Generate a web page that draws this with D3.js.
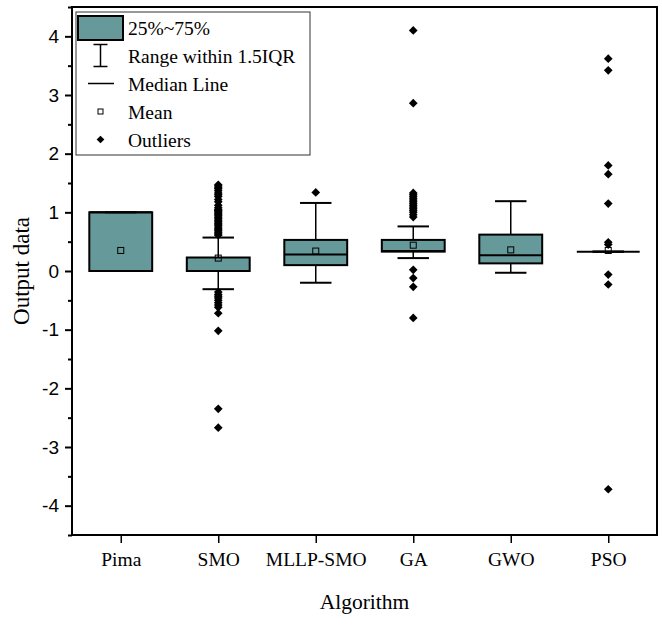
<!DOCTYPE html>
<html>
<head>
<meta charset="utf-8">
<script src="https://cdn.jsdelivr.net/npm/d3@7"></script>
<style>
  html, body { margin: 0; padding: 0; background: #fff; }
  svg { display: block; }
</style>
</head>
<body>
<svg id="chart" width="662" height="633"></svg>
<script>
const categories = ["Pima", "SMO", "MLLP-SMO", "GA", "GWO", "PSO"];
const q1Values = [0, 0, 0.10, 0.33, 0.13, 0.33];
const medianValues = [1, 0, 0.28, 0.34, 0.27, 0.33];
const q3Values = [1, 0.23, 0.53, 0.53, 0.62, 0.33];
const whiskerLow = [0, -0.31, -0.20, 0.22, -0.03, 0.33];
const whiskerHigh = [1, 0.57, 1.16, 0.76, 1.19, 0.33];
const meanValues = [0.35, 0.22, 0.34, 0.44, 0.36, 0.35];
const outlierPima = [];
const outlierSMO = [1.47, 1.45, 1.42, 1.40, 1.37, 1.33, 1.30, 1.27, 1.22, 1.18, 1.12, 1.08, 1.05, 1.03, 1.01,
  0.99, 0.97, 0.95, 0.92, 0.90, 0.87, 0.85, 0.82, 0.80, 0.78, 0.75, 0.72, 0.70, 0.68, 0.65, 0.63, 0.61,
  -0.36, -0.40, -0.43, -0.46, -0.50, -0.54, -0.58, -0.62, -0.72, -1.02, -2.35, -2.67];
const outlierMLLP = [1.34];
const outlierGA = [4.10, 2.86, 1.33, 1.30, 1.27, 1.24, 1.21, 1.18, 1.15, 1.12, 1.09, 1.06, 1.03, 1.00, 0.96, 0.92,
  0.02, -0.12, -0.27, -0.80];
const outlierGWO = [];
const outlierPSO = [3.62, 3.42, 1.80, 1.65, 1.15, 0.49, 0.45, -0.06, -0.23, -3.72];
const outlierSets = [outlierPima, outlierSMO, outlierMLLP, outlierGA, outlierGWO, outlierPSO];
const yTicks = [-4, -3, -2, -1, 0, 1, 2, 3, 4];
const yMinorTicks = [-4.5, -3.5, -2.5, -1.5, -0.5, 0.5, 1.5, 2.5, 3.5, 4.5];
const legendLabels = ["25%~75%", "Range within 1.5IQR", "Median Line", "Mean", "Outliers"];

const boxColor = "#669999";
const serif = "'Liberation Serif', 'Times New Roman', serif";
const sans = "'Liberation Sans', Arial, sans-serif";

const svg = d3.select("#chart");
const pLeft = 72, pRight = 657, pTop = 7, pBottom = 535;

const x = d3.scalePoint().domain(categories).range([pLeft, pRight]).padding(0.5);
const y = d3.scaleLinear().domain([-4.5, 4.5]).range([pBottom, pTop]);
const boxW = x.step() * 0.645;
const capW = boxW / 2;

const rows = categories.map((c, i) => ({
  c, q1: q1Values[i], med: medianValues[i], q3: q3Values[i],
  lo: whiskerLow[i], hi: whiskerHigh[i], mean: meanValues[i], out: outlierSets[i]
}));

const g = svg.append("g");
rows.forEach(r => {
  const cx = x(r.c);
  const gg = g.append("g");
  gg.append("line").attr("x1", cx).attr("x2", cx).attr("y1", y(r.q3)).attr("y2", y(r.hi))
    .attr("stroke", "#000").attr("stroke-width", 1.5);
  gg.append("line").attr("x1", cx).attr("x2", cx).attr("y1", y(r.q1)).attr("y2", y(r.lo))
    .attr("stroke", "#000").attr("stroke-width", 1.5);
  gg.append("rect").attr("x", cx - boxW / 2).attr("width", boxW)
    .attr("y", y(r.q3)).attr("height", Math.max(0, y(r.q1) - y(r.q3)))
    .attr("fill", boxColor).attr("stroke", "#000").attr("stroke-width", 2);
  gg.append("line").attr("x1", cx - boxW / 2).attr("x2", cx + boxW / 2)
    .attr("y1", y(r.med)).attr("y2", y(r.med)).attr("stroke", "#000").attr("stroke-width", 2);
  [r.lo, r.hi].forEach(v => {
    gg.append("line").attr("x1", cx - capW / 2).attr("x2", cx + capW / 2)
      .attr("y1", y(v)).attr("y2", y(v)).attr("stroke", "#000").attr("stroke-width", 2);
  });
  gg.append("rect").attr("x", cx - 3).attr("y", y(r.mean) - 3).attr("width", 6).attr("height", 6)
    .attr("fill", "none").attr("stroke", "#000").attr("stroke-width", 1);
  const sym = d3.symbol(d3.symbolSquare, 38);
  gg.selectAll("path.out").data(r.out).join("path").attr("class", "out")
    .attr("d", sym).attr("transform", v => `translate(${cx},${y(v)}) rotate(45)`)
    .attr("fill", "#000");
});

const yAxis = d3.axisLeft(y).tickValues(yTicks).tickSize(7).tickPadding(6).tickSizeOuter(0)
  .tickFormat(d => String(d));
const ya = svg.append("g").attr("transform", `translate(${pLeft},0)`).call(yAxis);
ya.select(".domain").remove();
ya.selectAll("line").attr("stroke", "#000").attr("stroke-width", 2);
ya.selectAll("text").attr("font-family", sans).attr("font-size", 19).attr("fill", "#000");
svg.append("g").attr("transform", `translate(${pLeft},0)`)
  .call(d3.axisLeft(y).tickValues(yMinorTicks).tickSize(4).tickFormat(() => "").tickSizeOuter(0))
  .call(s => s.select(".domain").remove())
  .selectAll("line").attr("stroke", "#000").attr("stroke-width", 2);

const xAxis = d3.axisBottom(x).tickSize(8).tickPadding(9).tickSizeOuter(0);
const xa = svg.append("g").attr("transform", `translate(0,${pBottom})`).call(xAxis);
xa.select(".domain").remove();
xa.selectAll("line").attr("stroke", "#000").attr("stroke-width", 1.5);
xa.selectAll("text").attr("font-family", serif).attr("font-size", 19.5).attr("fill", "#000");

svg.append("rect").attr("x", pLeft).attr("y", pTop).attr("width", pRight - pLeft).attr("height", pBottom - pTop)
  .attr("fill", "none").attr("stroke", "#000").attr("stroke-width", 2);

svg.append("text").attr("x", (pLeft + pRight) / 2).attr("y", 609).attr("text-anchor", "middle")
  .attr("font-family", serif).attr("font-size", 21.5).text("Algorithm");
svg.append("text").attr("transform", `translate(29,${(pTop + pBottom) / 2}) rotate(-90)`)
  .attr("text-anchor", "middle").attr("font-family", serif).attr("font-size", 23).text("Output data");

const lg = svg.append("g");
lg.append("rect").attr("x", 76).attr("y", 12).attr("width", 234).attr("height", 143)
  .attr("fill", "#fff").attr("stroke", "#333").attr("stroke-width", 1);
const rowY = [27.5, 55.5, 83.5, 111.5, 139.5];
const symX = 100.5;
lg.append("rect").attr("x", 78).attr("y", 16).attr("width", 45).attr("height", 24)
  .attr("fill", boxColor).attr("stroke", "#000").attr("stroke-width", 2);
lg.append("line").attr("x1", symX).attr("x2", symX).attr("y1", rowY[1] - 11).attr("y2", rowY[1] + 11)
  .attr("stroke", "#000").attr("stroke-width", 1.5);
[rowY[1] - 11, rowY[1] + 11].forEach(v => lg.append("line").attr("x1", symX - 7).attr("x2", symX + 7)
  .attr("y1", v).attr("y2", v).attr("stroke", "#000").attr("stroke-width", 1.5));
lg.append("line").attr("x1", 88).attr("x2", 114).attr("y1", rowY[2]).attr("y2", rowY[2])
  .attr("stroke", "#000").attr("stroke-width", 1.5);
lg.append("rect").attr("x", symX - 2.5).attr("y", rowY[3] - 2.5).attr("width", 5).attr("height", 5)
  .attr("fill", "#fff").attr("stroke", "#000").attr("stroke-width", 1);
lg.append("path").attr("d", d3.symbol(d3.symbolSquare, 30))
  .attr("transform", `translate(${symX},${rowY[4]}) rotate(45)`).attr("fill", "#000");
lg.selectAll("text.lbl").data(legendLabels).join("text").attr("class", "lbl")
  .attr("x", 128).attr("y", (d, i) => rowY[i] + 7)
  .attr("font-family", serif).attr("font-size", 19.5).attr("fill", "#000").text(d => d);
</script>
</body>
</html>
